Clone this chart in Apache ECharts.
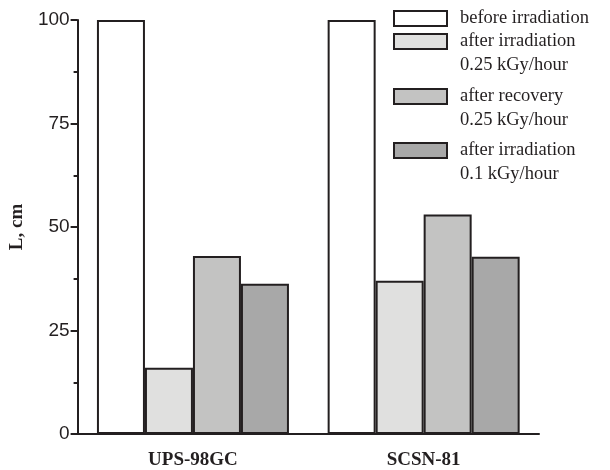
<!DOCTYPE html>
<html><head><meta charset="utf-8">
<script src="https://cdn.jsdelivr.net/npm/echarts@6/dist/echarts.min.js"></script>
<style>html,body{margin:0;padding:0;background:#fff}#c{width:610px;height:470px}</style>
</head><body><div id="c"></div>
<script>
const categories = ['UPS-98GC', 'SCSN-81'];
const seriesNames = ['before irradiation', 'after irradiation\n0.25 kGy/hour', 'after recovery\n0.25 kGy/hour', 'after irradiation\n0.1 kGy/hour'];
const beforeIrr = [100, 100];
const afterIrr025 = [16, 37];
const afterRec025 = [43, 53];
const afterIrr01 = [36.3, 42.8];
const yTicks = [0, 25, 50, 75, 100];

const values = [beforeIrr, afterIrr025, afterRec025, afterIrr01];
const colors = ['#ffffff', '#e0e0df', '#c3c3c2', '#a8a8a8'];
const iconTops = [10, 33, 88, 142];
const LH = 24;

const chart = echarts.init(document.getElementById('c'), null, {renderer: 'canvas'});
const option = {
  animation: false,
  backgroundColor: '#fff',
  grid: {left: 69, right: 71, top: 20, bottom: 34},
  legend: seriesNames.map((n, i) => {
    const multi = n.indexOf('\n') >= 0;
    return {
      data: [n], left: 393, top: iconTops[i] - 2 - (multi ? (3 * LH - 15) / 2 : (LH - 15) / 2),
      orient: 'vertical', itemWidth: 53, itemHeight: 15, itemGap: 0, padding: 0,
      icon: 'rect',
      formatter: multi ? (s => ' \n' + s) : (s => s),
      textStyle: {fontFamily: 'Liberation Serif', fontSize: 18.5, color: '#231f20',
        lineHeight: LH, padding: [6, 0, 0, 8]}
    };
  }),
  xAxis: {
    type: 'category', data: categories,
    axisLine: {lineStyle: {color: '#231f20', width: 2}},
    axisTick: {show: false},
    axisLabel: {fontFamily: 'Liberation Serif', fontWeight: 'bold', fontSize: 19, color: '#231f20', margin: 17}
  },
  yAxis: {
    type: 'value', min: yTicks[0], max: yTicks[yTicks.length - 1], interval: 25,
    name: 'L, cm', nameLocation: 'middle', nameGap: 43,
    nameTextStyle: {fontFamily: 'Liberation Serif', fontWeight: 'bold', fontSize: 19, color: '#231f20'},
    axisLine: {show: true, lineStyle: {color: '#231f20', width: 2}},
    axisTick: {show: true, length: 7, lineStyle: {color: '#231f20', width: 2}},
    minorTick: {show: true, splitNumber: 2, length: 4, lineStyle: {color: '#231f20', width: 2}},
    splitLine: {show: false},
    axisLabel: {fontFamily: 'Liberation Sans', fontSize: 19, color: '#231f20', margin: 8}
  },
  series: seriesNames.map((n, i) => ({
    name: n, type: 'bar', data: values[i], barWidth: 48, barGap: '0%',
    itemStyle: {color: colors[i], borderColor: '#231f20', borderWidth: 2}
  }))
};
chart.setOption(option);
</script></body></html>
